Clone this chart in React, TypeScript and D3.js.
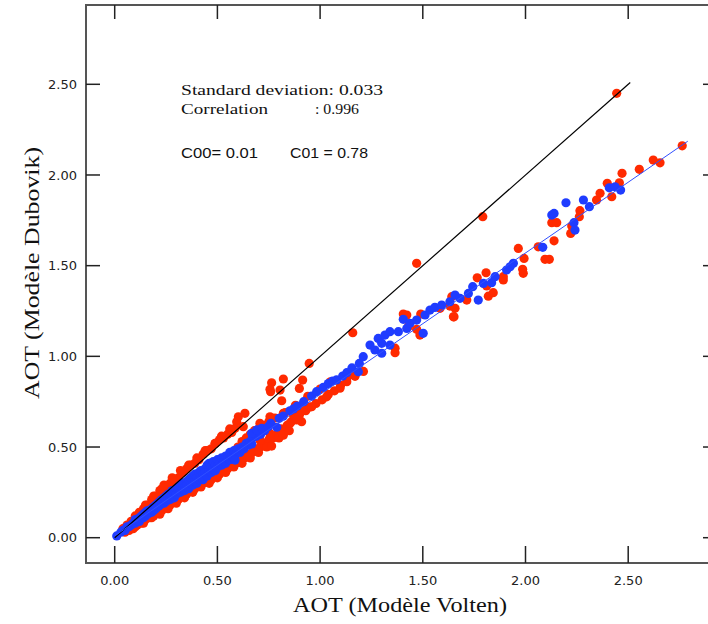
import React from "react";
import * as d3 from "d3";

const W = 708;
const H = 624;

const tickValues = [0, 0.5, 1.0, 1.5, 2.0, 2.5];
const tickLabels = ["0.00", "0.50", "1.00", "1.50", "2.00", "2.50"];

const xTitle = "AOT (Modèle Volten)";
const yTitle = "AOT (Modèle Dubovik)";
const statLines = ["Standard deviation: 0.033", "Correlation", ": 0.996", "C00= 0.01", "C01 = 0.78"];

const regC00 = 0.01;
const regC01 = 0.78;
const regXRange = [0, 2.79];
const identityRange = [0, 2.51];

const redPoints: [number, number][] = [
  // dense cluster, above
  [0.04, 0.05], [0.06, 0.07], [0.08, 0.09], [0.10, 0.12], [0.12, 0.14], [0.14, 0.16], [0.16, 0.18],
  [0.18, 0.21], [0.20, 0.23], [0.22, 0.26], [0.23, 0.27], [0.25, 0.28], [0.27, 0.30], [0.29, 0.32],
  [0.31, 0.33], [0.33, 0.36], [0.35, 0.38], [0.37, 0.40], [0.39, 0.41], [0.41, 0.43], [0.43, 0.46],
  [0.45, 0.48], [0.47, 0.49], [0.49, 0.52], [0.51, 0.54], [0.53, 0.55], [0.55, 0.57], [0.57, 0.58],
  [0.15, 0.18], [0.19, 0.23], [0.24, 0.29], [0.28, 0.33], [0.32, 0.37], [0.36, 0.40], [0.40, 0.44],
  [0.44, 0.48], [0.52, 0.56], [0.56, 0.60],
  // dense cluster, below
  [0.05, 0.03], [0.07, 0.04], [0.09, 0.05], [0.11, 0.07], [0.13, 0.08], [0.15, 0.10], [0.17, 0.11],
  [0.19, 0.12], [0.21, 0.14], [0.23, 0.15], [0.25, 0.17], [0.27, 0.18], [0.29, 0.20], [0.31, 0.21],
  [0.33, 0.23], [0.35, 0.24], [0.37, 0.26], [0.39, 0.27], [0.41, 0.29], [0.43, 0.30], [0.45, 0.31],
  [0.47, 0.32], [0.49, 0.34], [0.51, 0.35], [0.53, 0.37], [0.55, 0.38], [0.57, 0.40], [0.59, 0.41],
  [0.61, 0.42], [0.63, 0.44], [0.65, 0.46], [0.67, 0.47], [0.69, 0.49], [0.71, 0.50], [0.73, 0.52],
  [0.75, 0.54], [0.77, 0.55], [0.79, 0.57], [0.81, 0.60], [0.84, 0.62], [0.86, 0.64], [0.88, 0.66],
  [0.90, 0.68], [0.93, 0.70], [0.95, 0.72], [0.98, 0.74], [1.01, 0.76], [1.04, 0.79], [1.07, 0.81],
  [1.10, 0.84], [1.13, 0.86], [1.17, 0.89],
  [0.10, 0.06], [0.14, 0.08], [0.18, 0.11], [0.22, 0.13], [0.26, 0.16], [0.30, 0.19], [0.34, 0.22],
  [0.38, 0.25], [0.42, 0.28], [0.46, 0.30], [0.50, 0.33], [0.54, 0.36], [0.58, 0.39], [0.62, 0.41],
  [0.66, 0.44], [0.70, 0.47], [0.74, 0.50], [0.80, 0.55], [0.85, 0.59], [0.91, 0.64],
  // mid band
  [0.60, 0.50], [0.62, 0.53], [0.64, 0.55], [0.66, 0.57], [0.68, 0.59], [0.70, 0.60], [0.72, 0.62],
  [0.75, 0.64], [0.78, 0.66], [0.83, 0.69], [0.88, 0.73], [0.94, 0.78], [1.00, 0.82], [1.05, 0.86],
  // scattered 0.5 - 1.2
  [0.488, 0.52], [0.602, 0.667], [0.634, 0.686], [0.586, 0.603], [0.626, 0.612], [0.594, 0.639],
  [0.707, 0.631], [0.756, 0.575], [0.764, 0.505], [0.707, 0.538], [0.821, 0.565], [0.707, 0.565],
  [0.805, 0.814], [0.759, 0.805], [0.821, 0.875], [0.764, 0.854], [0.756, 0.818], [0.947, 0.961],
  [0.915, 0.869], [0.899, 0.823], [0.813, 0.755], [0.918, 0.718], [0.959, 0.722], [0.870, 0.677],
  [0.821, 0.686], [0.886, 0.649], [0.756, 0.667], [0.853, 0.630], [1.032, 0.777], [1.097, 0.824],
  [1.130, 0.879], [1.138, 0.896], [1.159, 1.130], [1.162, 0.899], [1.211, 0.917],
  // 1.2 - 2.0
  [1.365, 1.045], [1.365, 1.020], [1.430, 1.164], [1.422, 1.228], [1.470, 1.149], [1.486, 1.117],
  [1.405, 1.233], [1.490, 1.233], [1.584, 1.265], [1.632, 1.277], [1.641, 1.329], [1.652, 1.218],
  [1.657, 1.265], [1.714, 1.310], [1.649, 1.218], [1.819, 1.332], [1.843, 1.351], [1.811, 1.388],
  [1.765, 1.433], [1.808, 1.461], [1.892, 1.421], [1.892, 1.439], [1.986, 1.480], [1.989, 1.458],
  [1.470, 1.513], [1.792, 1.770],
  // 2.0 - 2.8
  [1.993, 1.540], [1.965, 1.595], [2.062, 1.604], [2.095, 1.535], [2.116, 1.535], [2.139, 1.637],
  [2.220, 1.678], [2.225, 1.719], [2.128, 1.737], [2.152, 1.737], [2.262, 1.770], [2.265, 1.803],
  [2.346, 1.862], [2.363, 1.899], [2.420, 1.880], [2.398, 1.954], [2.457, 1.957], [2.470, 2.009],
  [2.554, 2.031], [2.622, 2.082], [2.655, 2.067], [2.763, 2.161], [2.444, 2.450],
];

const bluePoints: [number, number][] = [
  [0.01, 0.01], [0.03, 0.03], [0.04, 0.04], [0.05, 0.04], [0.06, 0.06], [0.07, 0.06], [0.08, 0.07],
  [0.09, 0.08], [0.10, 0.08], [0.10, 0.10],
  [0.11, 0.10], [0.12, 0.11], [0.12, 0.09], [0.13, 0.12], [0.14, 0.11], [0.14, 0.13], [0.15, 0.12],
  [0.15, 0.14], [0.16, 0.13], [0.16, 0.15], [0.17, 0.14], [0.18, 0.16], [0.18, 0.14], [0.19, 0.17],
  [0.19, 0.15], [0.20, 0.18], [0.20, 0.16],
  [0.21, 0.19], [0.21, 0.17], [0.22, 0.20], [0.22, 0.18], [0.23, 0.21], [0.23, 0.19], [0.24, 0.22],
  [0.24, 0.19], [0.25, 0.23], [0.25, 0.20], [0.26, 0.22], [0.26, 0.24], [0.27, 0.21], [0.27, 0.24],
  [0.28, 0.23], [0.28, 0.26], [0.29, 0.24], [0.29, 0.22], [0.30, 0.27], [0.30, 0.24],
  [0.31, 0.26], [0.31, 0.28], [0.32, 0.25], [0.32, 0.29], [0.33, 0.27], [0.33, 0.30], [0.34, 0.28],
  [0.34, 0.26], [0.35, 0.31], [0.35, 0.29], [0.36, 0.27], [0.36, 0.32], [0.37, 0.30], [0.37, 0.33],
  [0.38, 0.29], [0.38, 0.34], [0.39, 0.31], [0.39, 0.35], [0.40, 0.33], [0.40, 0.30],
  [0.41, 0.36], [0.41, 0.32], [0.42, 0.34], [0.42, 0.37], [0.43, 0.35], [0.43, 0.32], [0.44, 0.38],
  [0.44, 0.36], [0.45, 0.34], [0.45, 0.40], [0.46, 0.37], [0.46, 0.41], [0.47, 0.39], [0.47, 0.36],
  [0.48, 0.42], [0.48, 0.38], [0.49, 0.40], [0.49, 0.37], [0.50, 0.43], [0.50, 0.39],
  [0.51, 0.41], [0.52, 0.44], [0.52, 0.40], [0.53, 0.42], [0.54, 0.45], [0.54, 0.41], [0.55, 0.44],
  [0.56, 0.47], [0.56, 0.43], [0.57, 0.45], [0.58, 0.48], [0.58, 0.44], [0.59, 0.46], [0.60, 0.49],
  [0.61, 0.47], [0.62, 0.50], [0.63, 0.49], [0.64, 0.52], [0.65, 0.51], [0.66, 0.53], [0.67, 0.55],
  [0.69, 0.56], [0.71, 0.57], [0.73, 0.59],
  [0.586, 0.428], [0.667, 0.517], [0.667, 0.576], [0.691, 0.594], [0.716, 0.603], [0.748, 0.612],
  [0.76, 0.63], [0.789, 0.609], [0.801, 0.658], [0.82, 0.67], [0.853, 0.700], [0.87, 0.71],
  [0.889, 0.726], [0.92, 0.75], [0.959, 0.781], [0.983, 0.805], [1.016, 0.829], [1.04, 0.85],
  [1.061, 0.864], [1.08, 0.87], [1.110, 0.891], [1.13, 0.91], [1.155, 0.936], [1.186, 0.915],
  [1.191, 0.961], [1.210, 0.998],
  [1.243, 1.062], [1.267, 1.035], [1.283, 1.099], [1.300, 1.072], [1.300, 1.017], [1.316, 1.117],
  [1.340, 1.136], [1.340, 1.062], [1.381, 1.136], [1.405, 1.204], [1.422, 1.154], [1.438, 1.182],
  [1.470, 1.200], [1.502, 1.127], [1.511, 1.228], [1.535, 1.255], [1.559, 1.270], [1.592, 1.283],
  [1.632, 1.301], [1.657, 1.338], [1.681, 1.320], [1.722, 1.347], [1.743, 1.384], [1.770, 1.310],
  [1.795, 1.402], [1.835, 1.406], [1.852, 1.439], [1.908, 1.476], [1.925, 1.494], [1.941, 1.513],
  [2.084, 1.601], [2.128, 1.779], [2.139, 1.788], [2.197, 1.847], [2.236, 1.737], [2.241, 1.696],
  [2.282, 1.862], [2.311, 1.825], [2.408, 1.929], [2.436, 1.935], [2.463, 1.917],
];

export default function App() {
  const x = d3.scaleLinear().domain([0, 2.5]).range([114.7, 628.2]);
  const y = d3.scaleLinear().domain([0, 2.5]).range([537.7, 84.3]);

  const frame = { left: 86, top: 5, right: 717, bottom: 563 };
  const tickLen = 14;

  const regLine = d3.line<number>()
    .x((v) => x(v))
    .y((v) => y(regC00 + regC01 * v));
  const idLine = d3.line<number>()
    .x((v) => x(v))
    .y((v) => y(v));

  const red = "#ff2a00";
  const blue = "#1f3cff";
  const tickFont = "Tahoma, 'DejaVu Sans', Verdana, sans-serif";
  const serif = "'Liberation Serif', 'Times New Roman', serif";
  const r = 4.6;

  return (
    <svg
      width={W}
      height={H}
      style={{ position: "absolute", left: 0, top: 0, background: "#fff" }}
    >
      <rect x={0} y={0} width={W} height={H} fill="#fff" />
      <g>
        {redPoints.map((p, i) => (
          <circle key={"r" + i} cx={x(p[0])} cy={y(p[1])} r={r} fill={red} />
        ))}
        {bluePoints.map((p, i) => (
          <circle key={"b" + i} cx={x(p[0])} cy={y(p[1])} r={r} fill={blue} />
        ))}
      </g>
      <path d={idLine(identityRange) || ""} stroke="#000" strokeWidth={1.2} fill="none" />
      <path d={regLine(regXRange) || ""} stroke="#3050ff" strokeWidth={1} fill="none" />

      <rect
        x={frame.left}
        y={frame.top}
        width={frame.right - frame.left}
        height={frame.bottom - frame.top}
        fill="none"
        stroke="#555"
        strokeWidth={2}
      />
      {tickValues.map((v, i) => (
        <g key={"t" + i} stroke="#222" strokeWidth={1.5}>
          <line x1={frame.left} x2={frame.left + tickLen} y1={y(v)} y2={y(v)} />
          <line x1={frame.right} x2={frame.right - tickLen} y1={y(v)} y2={y(v)} />
          <line x1={x(v)} x2={x(v)} y1={frame.bottom} y2={frame.bottom - tickLen - 3} />
          <line x1={x(v)} x2={x(v)} y1={frame.top} y2={frame.top + tickLen} />
        </g>
      ))}
      {tickValues.map((v, i) => (
        <text
          key={"yl" + i}
          x={77}
          y={y(v)}
          dy="0.35em"
          textAnchor="end"
          fontFamily={tickFont}
          fontSize={13}
          fill="#222"
        >
          {tickLabels[i]}
        </text>
      ))}
      {tickValues.map((v, i) => (
        <text
          key={"xl" + i}
          x={x(v)}
          y={585}
          textAnchor="middle"
          fontFamily={tickFont}
          fontSize={13}
          fill="#222"
        >
          {tickLabels[i]}
        </text>
      ))}
      <text
        x={400}
        y={612}
        textAnchor="middle"
        fontFamily={serif}
        fontSize={21}
        fill="#111"
        textLength={214}
        lengthAdjust="spacingAndGlyphs"
      >
        {xTitle}
      </text>
      <text
        transform={`translate(39, 273) rotate(-90)`}
        textAnchor="middle"
        fontFamily={serif}
        fontSize={21}
        fill="#111"
        textLength={252}
        lengthAdjust="spacingAndGlyphs"
      >
        {yTitle}
      </text>
      <text x={181} y={95} fontFamily={serif} fontSize={15} fill="#111" textLength={202} lengthAdjust="spacingAndGlyphs">
        {statLines[0]}
      </text>
      <text x={181} y={114} fontFamily={serif} fontSize={15} fill="#111" textLength={87} lengthAdjust="spacingAndGlyphs">
        {statLines[1]}
      </text>
      <text x={315} y={114} fontFamily={serif} fontSize={15} fill="#111" textLength={44} lengthAdjust="spacingAndGlyphs">
        {statLines[2]}
      </text>
      <text x={181} y={158} fontFamily="'Liberation Sans', Arial, sans-serif" fontSize={14} fill="#111" textLength={77} lengthAdjust="spacingAndGlyphs">
        {statLines[3]}
      </text>
      <text x={290} y={158} fontFamily="'Liberation Sans', Arial, sans-serif" fontSize={14} fill="#111" textLength={78} lengthAdjust="spacingAndGlyphs">
        {statLines[4]}
      </text>
    </svg>
  );
}
